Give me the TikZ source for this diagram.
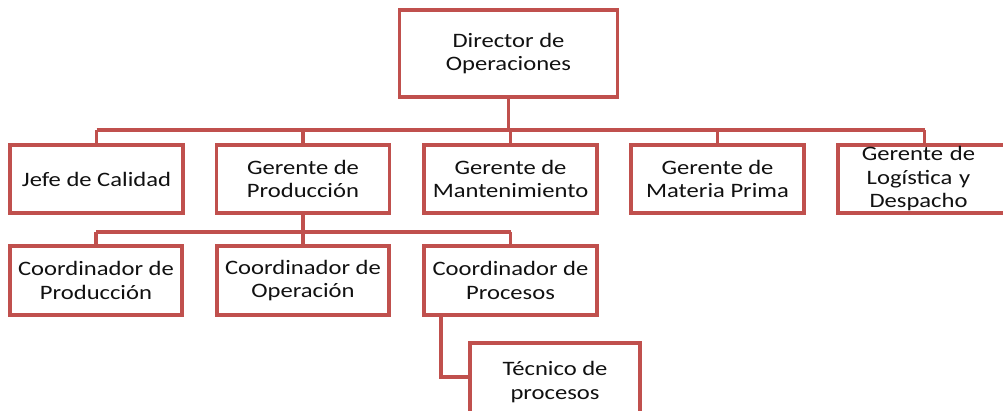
\documentclass[tikz,border=0pt]{standalone}
\usepackage{fontspec}
\setmainfont{Carlito}[FakeStretch=1.2]
\definecolor{boxred}{HTML}{C0504D}
\definecolor{txt}{HTML}{111111}
\tikzset{
  orgbox/.style={draw=boxred, line width=3.2pt, fill=white, rectangle, align=center,
    inner sep=0pt, text=txt, font=\fontsize{20.5}{23.5}\selectfont},
  link/.style={draw=boxred, line width=3.2pt}
}
\begin{document}
\begin{tikzpicture}[x=1pt,y=-1pt]
\clip (0,0) rectangle (1003,411);
\fill[white] (0,0) rectangle (1003,411);
\coordinate (b0) at (508.5,130);
\coordinate (bL) at (96.5,130);
\coordinate (bR) at (924.5,130);
\coordinate (p0) at (303,232);
\coordinate (pL) at (96,232);
\coordinate (pR) at (510.5,232);
\coordinate (t0) at (441,377);
% nodes
\node[orgbox, minimum width=218, minimum height=87] (dir) at (508.5,53.5) {Director de\\Operaciones};
\node[orgbox, minimum width=173, minimum height=68] (jefe) at (96.5,179) {Jefe de Calidad};
\node[orgbox, minimum width=173, minimum height=68] (gprod) at (303,179) {Gerente de\\Producción};
\node[orgbox, minimum width=173, minimum height=68] (gmant) at (510.5,179) {Gerente de\\Mantenimiento};
\node[orgbox, minimum width=173, minimum height=68] (gmat) at (717.5,179) {Gerente de\\Materia Prima};
\node[orgbox, minimum width=173, minimum height=68, text width=173] (glog) at (924.5,179) {\hspace*{-12pt}Gerente de\\\hspace*{-12pt}Logística y\\\hspace*{-12pt}Despacho};
\node[orgbox, minimum width=172, minimum height=69] (cprod) at (96,280.5) {Coordinador de\\Producción};
\node[orgbox, minimum width=172, minimum height=69] (coper) at (303,280.5) {Coordinador de\\Operación};
\node[orgbox, minimum width=173, minimum height=69] (cproc) at (510.5,280.5) {Coordinador de\\Procesos};
\node[orgbox, minimum width=170, minimum height=78] (tec) at (555,382) {Técnico de\\procesos};
% lines
\draw[link] (dir.south) -- (b0);
\draw[link] (bL) -- (bR);
\draw[link] (bL) -- (jefe.north);
\draw[link] (b0 -| gprod.north) -- (gprod.north);
\draw[link] (b0 -| gmant.north) -- (gmant.north);
\draw[link] (b0 -| gmat.north) -- (gmat.north);
\draw[link] (bR) -- (glog.north);
\draw[link] (gprod.south) -- (p0);
\draw[link] (pL) -- (pR);
\draw[link] (pL) -- (cprod.north);
\draw[link] (p0) -- (coper.north);
\draw[link] (pR) -- (cproc.north);
\draw[link] (cproc.south -| t0) -- (t0) -- (t0 -| tec.west);
\end{tikzpicture}
\end{document}
